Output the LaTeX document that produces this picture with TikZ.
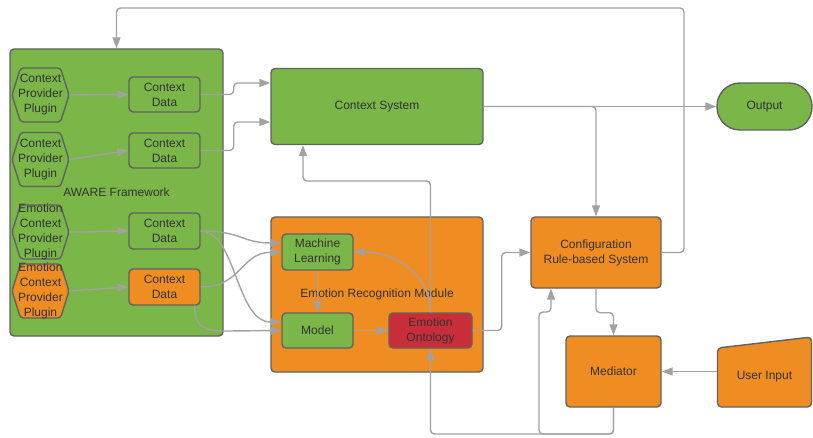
\documentclass[tikz,border=0pt]{standalone}
\usepackage{fontspec}
\setmainfont{Liberation Sans}
\usetikzlibrary{arrows.meta}
\definecolor{cgreen}{HTML}{7AB648}
\definecolor{corange}{HTML}{EF8D22}
\definecolor{cred}{HTML}{C92D39}
\definecolor{cborder}{HTML}{626262}
\definecolor{cline}{HTML}{A2A2A2}
\definecolor{ctext}{HTML}{333333}
\begin{document}
\begin{tikzpicture}[x=1pt,y=-1pt,
  box/.style={draw=cborder, line width=1.4pt, rounded corners=4pt, text=ctext, align=center, inner sep=0pt, font=\fontsize{12}{15}\selectfont},
  hexline/.style={draw=cborder, line width=1.4pt, rounded corners=3pt},
  hextext/.style={text=ctext, align=center, inner sep=0pt, font=\fontsize{12}{15}\selectfont, minimum width=57pt, minimum height=54pt},
  conn/.style={draw=cline, line width=1.4pt, rounded corners=4pt},
  arr/.style={conn, -{Triangle[length=11pt,width=8pt]}}]
\useasboundingbox (0,0) rectangle (813,438);

% AWARE framework
\node[box, fill=cgreen, minimum width=213pt, minimum height=287pt] (aware) at (116.5,192.5) {AWARE Framework};

% hexagons
\coordinate (h1) at (40.5,95);
\coordinate (h2) at (40.5,159.5);
\coordinate (h3) at (40.5,232);
\coordinate (h4) at (40.5,291);
\foreach \c/\f in {h1/cgreen,h2/cgreen,h3/cgreen,h4/corange}{
  \filldraw[hexline, fill=\f] ([shift={(-28.5,0)}]\c) -- ([shift={(-20,-27)}]\c) -- ([shift={(20,-27)}]\c) -- ([shift={(28.5,0)}]\c) -- ([shift={(20,27)}]\c) -- ([shift={(-20,27)}]\c) -- cycle;
}
\node[hextext] (hex1) at (h1) {Context\\Provider\\Plugin};
\node[hextext] (hex2) at (h2) {Context\\Provider\\Plugin};
\node[hextext] (hex3) at (h3) {Emotion\\Context\\Provider\\Plugin};
\node[hextext] (hex4) at (h4) {Emotion\\Context\\Provider\\Plugin};

% context data
\node[box, fill=cgreen, minimum width=71pt, minimum height=35pt] (cd1) at (164.5,94.5) {Context\\Data};
\node[box, fill=cgreen, minimum width=71pt, minimum height=35pt] (cd2) at (164.5,150.5) {Context\\Data};
\node[box, fill=cgreen, minimum width=71pt, minimum height=36pt] (cd3) at (164.5,231) {Context\\Data};
\node[box, fill=corange, minimum width=71pt, minimum height=36pt] (cd4) at (164.5,287) {Context\\Data};

% main blocks
\node[box, fill=cgreen, minimum width=212pt, minimum height=76pt] (cs) at (377,106.5) {Context System};
\node[box, fill=corange, minimum width=212pt, minimum height=155pt] (erm) at (377,294.5) {Emotion Recognition Module};
\node[box, fill=cgreen, minimum width=71pt, minimum height=36pt] (ml) at (317.5,252) {Machine\\Learning};
\node[box, fill=cgreen, minimum width=71pt, minimum height=35pt] (model) at (317.5,330.5) {Model};
\node[box, fill=cred, minimum width=83pt, minimum height=35pt] (ont) at (430.5,330.5) {Emotion\\Ontology};
\node[box, fill=corange, minimum width=130pt, minimum height=71pt] (cfg) at (596,252.5) {Configuration\\Rule-based System};
\node[box, fill=corange, minimum width=95pt, minimum height=71pt] (med) at (613.5,371.5) {Mediator};
\node[box, fill=cgreen, rounded corners=23pt, minimum width=95pt, minimum height=47pt] (out) at (764.5,106.5) {Output};

% user input (manual input shape)
\coordinate (u) at (764.5,377);
\filldraw[hexline, rounded corners=4pt, fill=corange] ([shift={(-47,-29)}]u) -- ([shift={(47,-40)}]u) -- ([shift={(47,30)}]u) -- ([shift={(-47,30)}]u) -- cycle;
\node[text=ctext, inner sep=0pt, minimum width=94pt, font=\fontsize{12}{15}\selectfont] (uin) at (u) {User Input};

% connectors inside AWARE
\draw[arr] (hex1.east) -- (cd1.west);
\draw[arr] (hex2.east) -- (cd2.west);
\draw[arr] (hex3.east) -- (cd3.west);
\draw[arr] (hex4.east) -- (cd4.west);

% context data -> context system
\draw[arr] (cd1.east) -- ++(33,0) |- ([yshift=23.5pt]cs.west);
\draw[arr] (cd2.east) -- ++(33,0) |- ([yshift=-15.5pt]cs.west);

% context data -> emotion recognition
\draw[arr] (cd3.east) .. controls (242,231) and (242,243) .. ([yshift=9pt]ml.west);
\draw[arr] (cd3.east) .. controls (236,231) and (236,322) .. ([yshift=8.5pt]model.west);
\draw[arr] (cd4.east) .. controls (242,287) and (240,253) .. (ml.west);
\draw[arr] ([xshift=-6pt]cd4.south east) .. controls (194,326) and (204,331) .. (228,331) -- (model.west);

% inside module
\draw[arr] (ml.south) -- (model.north);
\draw[arr] (model.east) -- (ont.west);
\draw[arr] (ont.north) .. controls (430.5,272) and (392,252) .. (ml.east);

% ontology -> context system
\coordinate (bendA) at (303,181);
\draw[arr] (ont.north) |- (bendA) -- (bendA |- cs.south);

% context system -> output, config
\draw[arr] (cs.east) -- (out.west);
\draw[arr] (cs.east) -| (cfg.north);

% ontology -> config
\draw[arr] (ont.east) -- ++(29,0) |- (cfg.west);

% config -> AWARE (top loop)
\coordinate (topR) at (684,8);
\draw[arr] (cfg.east) -| (topR) -| (aware.north);

% config -> mediator
\draw[arr] (cfg.south) -- ++(0,24) -| (med.north);

% user input -> mediator
\draw[arr] (uin.west |- med.east) -- (med.east);

% mediator -> ontology, config
\coordinate (botL) at (430.5,434);
\draw[arr] (med.south) |- (botL) -- (ont.south);
\coordinate (botB) at (539,434);
\draw[arr] (med.south) |- (botB) -- ++(0,-122) -| ([xshift=-45pt]cfg.south);

\end{tikzpicture}
\end{document}
